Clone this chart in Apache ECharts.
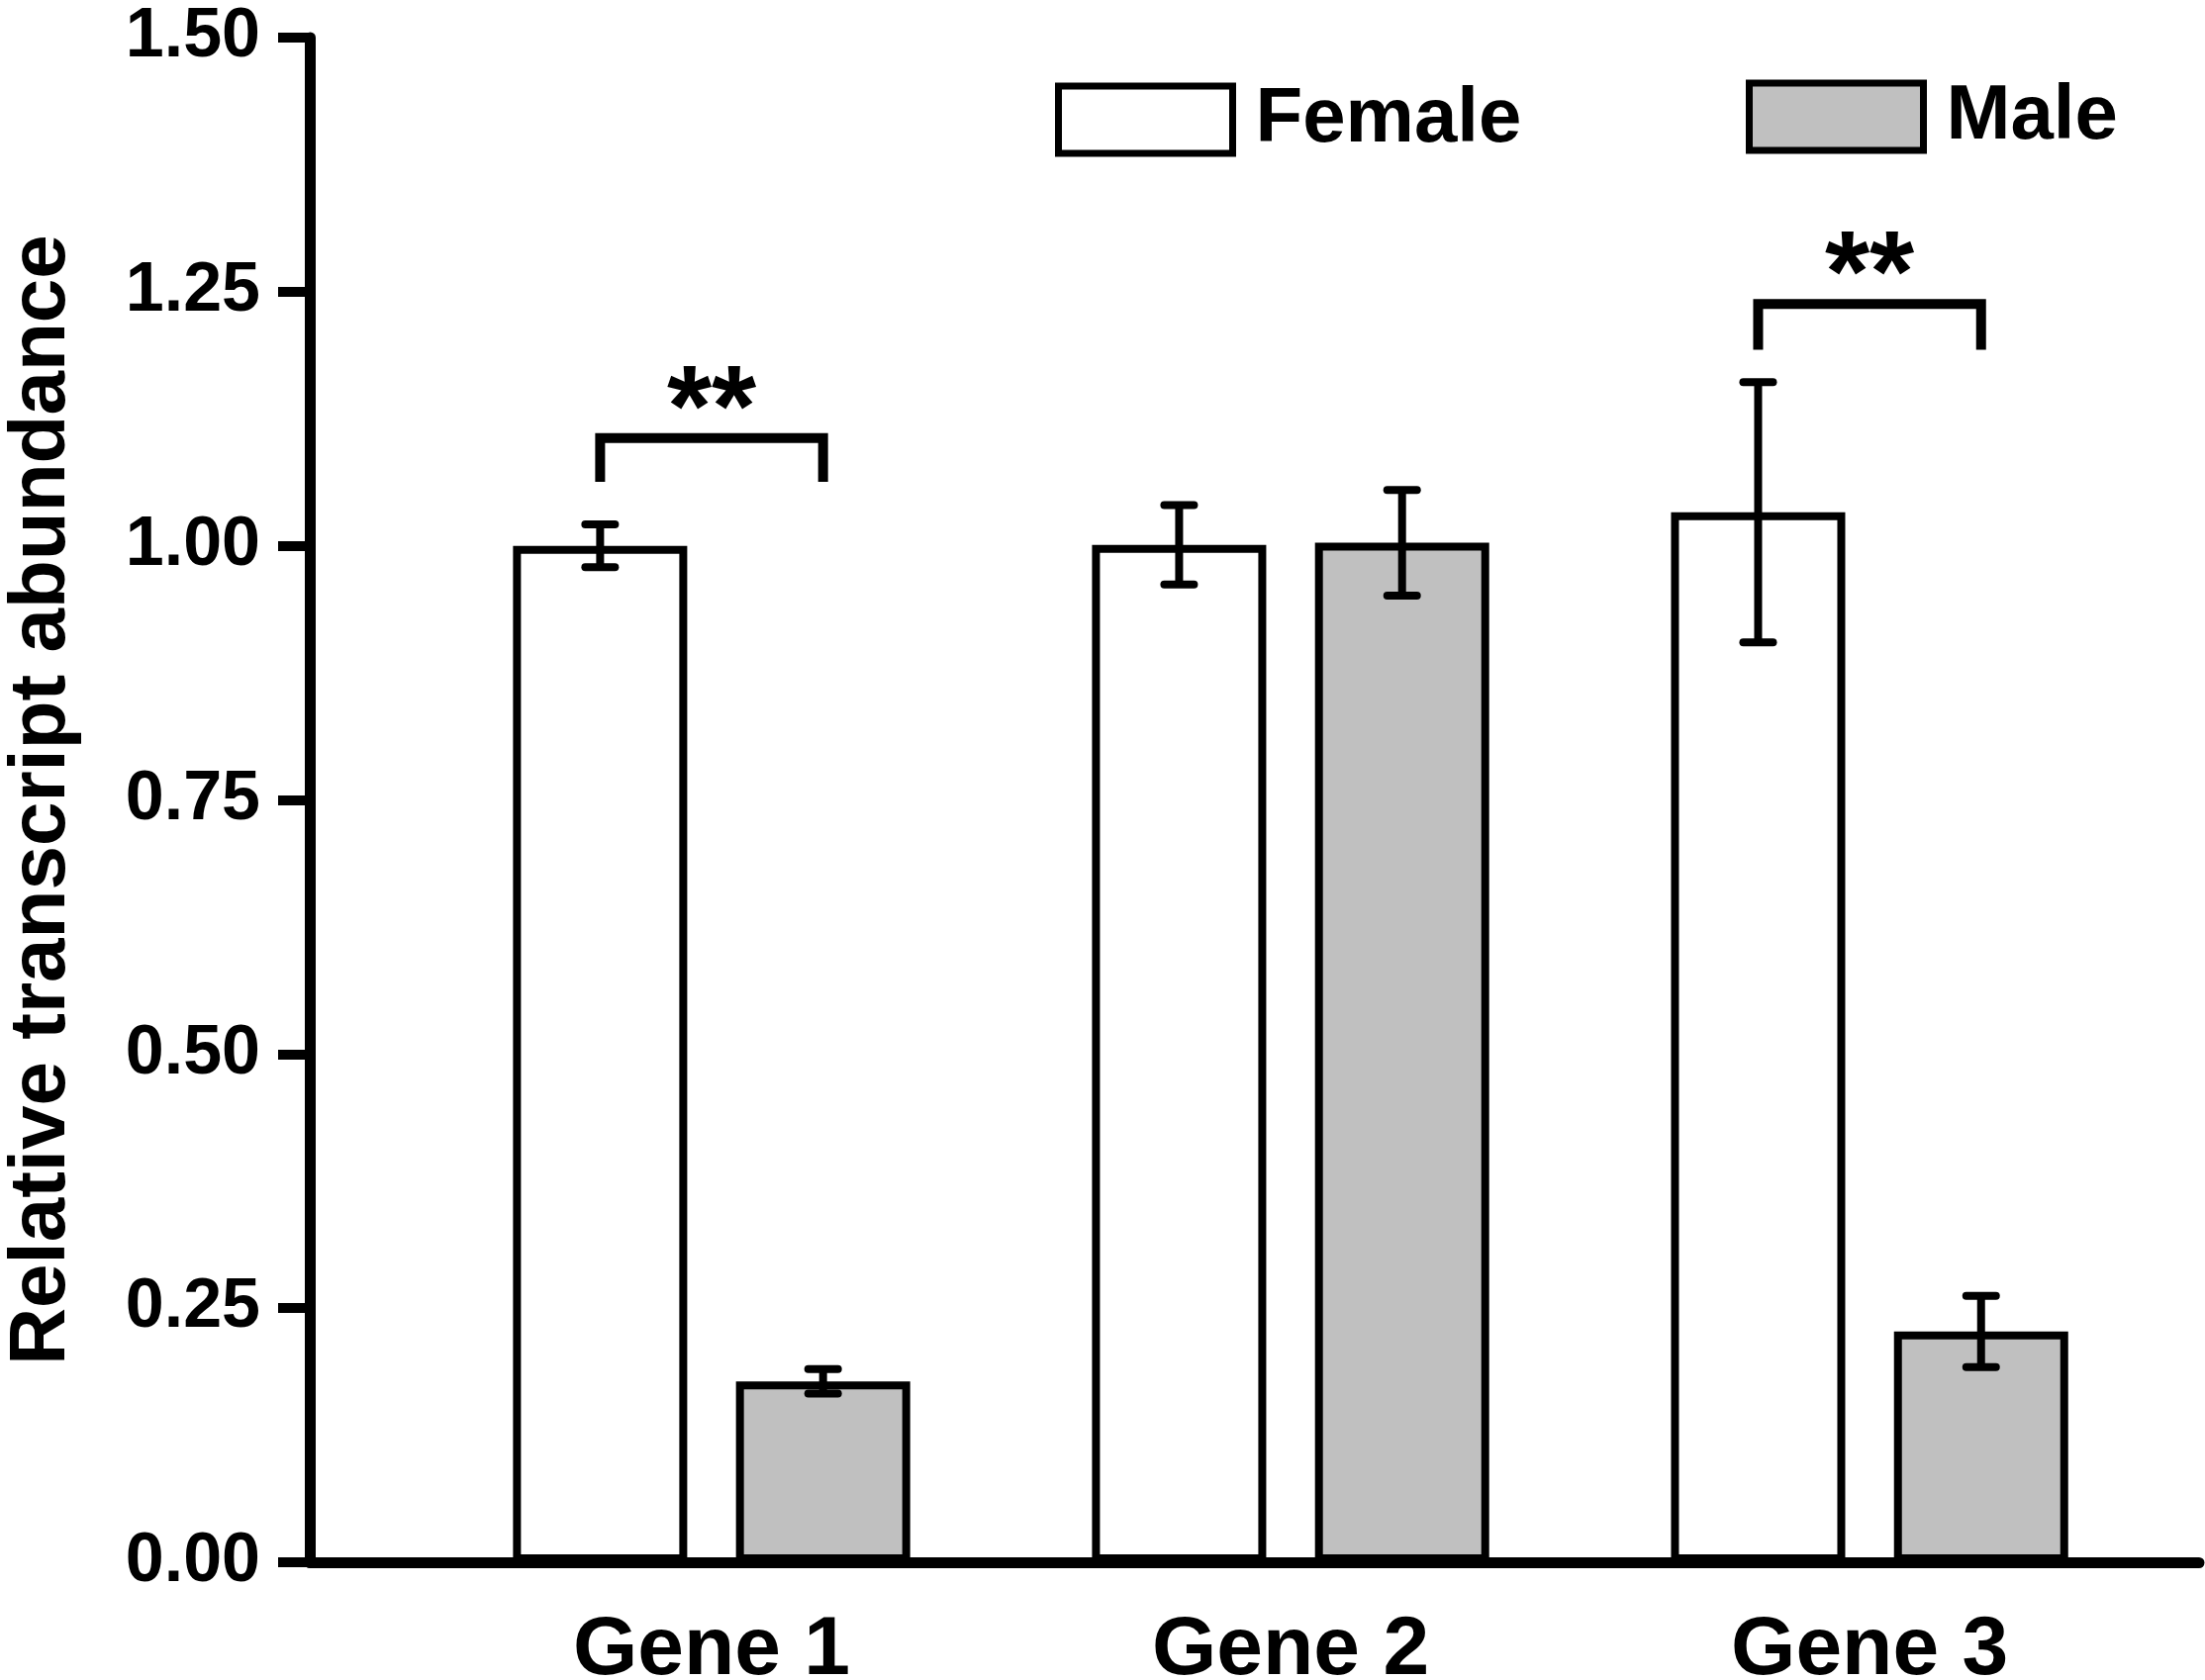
<!DOCTYPE html>
<html>
<head>
<meta charset="utf-8">
<script src="https://cdn.jsdelivr.net/npm/echarts@6/dist/echarts.min.js"></script>
<style>
html, body { margin: 0; padding: 0; background: #fff; }
#chart { width: 2228px; height: 1698px; }
</style>
</head>
<body>
<div id="chart"></div>
<script>
// values
const genes = ['Gene 1', 'Gene 2', 'Gene 3'];
const femaleMean = [1.000, 1.001, 1.033];
const femaleErr = [0.021, 0.039, 0.128];
const maleMean = [0.178, 1.003, 0.227];
const maleErr = [0.012, 0.052, 0.035];
// significance brackets
const sigGenes = [0, 2];
const sigTop = [1.106, 1.238];
const sigBottom = [1.063, 1.193];
const sigText = ['**', '**'];

const FONT = '"Liberation Sans", Arial, sans-serif';
const barWidth = 176;
const barGap = 0.28;
const halfPair = barWidth * (1 + barGap) / 2;

const chart = echarts.init(document.getElementById('chart'));

function errorBar(side) {
    return function (params, api) {
        const x = api.value(0);
        const lo = api.coord([x, api.value(1)]);
        const hi = api.coord([x, api.value(2)]);
        const cx = lo[0] + side * halfPair;
        const cap = 15;
        const st = { stroke: '#000', lineWidth: 8 };
        return {
            type: 'group',
            children: [
                { type: 'line', shape: { x1: cx, y1: hi[1], x2: cx, y2: lo[1] }, style: st },
                { type: 'line', shape: { x1: cx - cap, y1: hi[1], x2: cx + cap, y2: hi[1] }, style: Object.assign({ lineCap: 'round' }, st) },
                { type: 'line', shape: { x1: cx - cap, y1: lo[1], x2: cx + cap, y2: lo[1] }, style: Object.assign({ lineCap: 'round' }, st) }
            ]
        };
    };
}

function bracket(params, api) {
    const x = api.value(0);
    const top = api.coord([x, api.value(1)]);
    const bot = api.coord([x, api.value(2)]);
    const x1 = top[0] - halfPair, x2 = top[0] + halfPair;
    return {
        type: 'group',
        children: [
            {
                type: 'polyline',
                shape: { points: [[x1, bot[1]], [x1, top[1]], [x2, top[1]], [x2, bot[1]]] },
                style: { stroke: '#000', lineWidth: 10, fill: null, lineJoin: 'miter' }
            },
            {
                type: 'text',
                style: {
                    text: sigText[params.dataIndex],
                    x: top[0], y: top[1] - 24,
                    align: 'center', verticalAlign: 'middle',
                    font: 'bold 116px ' + FONT, fill: '#000'
                }
            }
        ]
    };
}

const option = {
    backgroundColor: '#fff',
    animation: false,
    textStyle: { fontFamily: FONT },
    legend: [
        {
            data: ['Female'], left: 1066, top: 82, padding: 0,
            icon: 'rect', itemWidth: 176, itemHeight: 68,
            itemStyle: { borderColor: '#000', borderWidth: 7 },
            textStyle: { fontSize: 78, fontWeight: 'bold', color: '#000', fontFamily: FONT, padding: [0, 0, 0, 18] }
        },
        {
            data: ['Male'], left: 1764, top: 79, padding: 0,
            icon: 'rect', itemWidth: 176, itemHeight: 68,
            itemStyle: { borderColor: '#000', borderWidth: 7 },
            textStyle: { fontSize: 78, fontWeight: 'bold', color: '#000', fontFamily: FONT, padding: [0, 0, 0, 18] }
        }
    ],
    grid: { left: 313, right: 6, top: 38, bottom: 119, containLabel: false, outerBoundsMode: 'none' },
    xAxis: {
        type: 'value',
        min: -0.694,
        max: 2.569,
        splitLine: { show: false },
        axisTick: { show: false },
        axisLine: { show: true, onZero: false, lineStyle: { color: '#000', width: 11 } },
        axisLabel: {
            customValues: [0, 1, 2],
            formatter: v => genes[Math.round(v)],
            fontSize: 84, fontWeight: 'bold', color: '#000', fontFamily: FONT,
            margin: 48, lineHeight: 84
        }
    },
    yAxis: {
        type: 'value',
        min: 0, max: 1.5, interval: 0.25,
        name: 'Relative transcript abundance',
        nameLocation: 'middle',
        nameGap: 230,
        nameTextStyle: { fontSize: 80, fontWeight: 'bold', color: '#000', fontFamily: FONT },
        splitLine: { show: false },
        axisLine: { show: true, onZero: false, lineStyle: { color: '#000', width: 11 } },
        axisTick: { show: true, inside: false, length: 32, lineStyle: { color: '#000', width: 10 } },
        axisLabel: {
            formatter: v => v.toFixed(2),
            fontSize: 70, fontWeight: 'bold', color: '#000', fontFamily: FONT,
            margin: 50
        }
    },
    series: [
        {
            name: 'Female', type: 'bar',
            data: femaleMean.map((m, i) => [i, m]),
            barWidth: barWidth, barGap: (barGap * 100) + '%',
            itemStyle: { color: '#fff', borderColor: '#000', borderWidth: 8 },
            z: 2
        },
        {
            name: 'Male', type: 'bar',
            data: maleMean.map((m, i) => [i, m]),
            barWidth: barWidth, barGap: (barGap * 100) + '%',
            itemStyle: { color: '#c0c0c0', borderColor: '#000', borderWidth: 8 },
            z: 2
        },
        {
            name: 'Female SE', type: 'custom',
            renderItem: errorBar(-1),
            data: femaleMean.map((m, i) => [i, m - femaleErr[i], m + femaleErr[i]]),
            encode: { x: 0, y: [1, 2] },
            z: 4
        },
        {
            name: 'Male SE', type: 'custom',
            renderItem: errorBar(1),
            data: maleMean.map((m, i) => [i, m - maleErr[i], m + maleErr[i]]),
            encode: { x: 0, y: [1, 2] },
            z: 4
        },
        {
            name: 'Significance', type: 'custom',
            renderItem: bracket,
            data: sigGenes.map((g, i) => [g, sigTop[i], sigBottom[i]]),
            encode: { x: 0, y: [1, 2] },
            z: 4
        }
    ]
};

chart.setOption(option);
</script>
</body>
</html>
